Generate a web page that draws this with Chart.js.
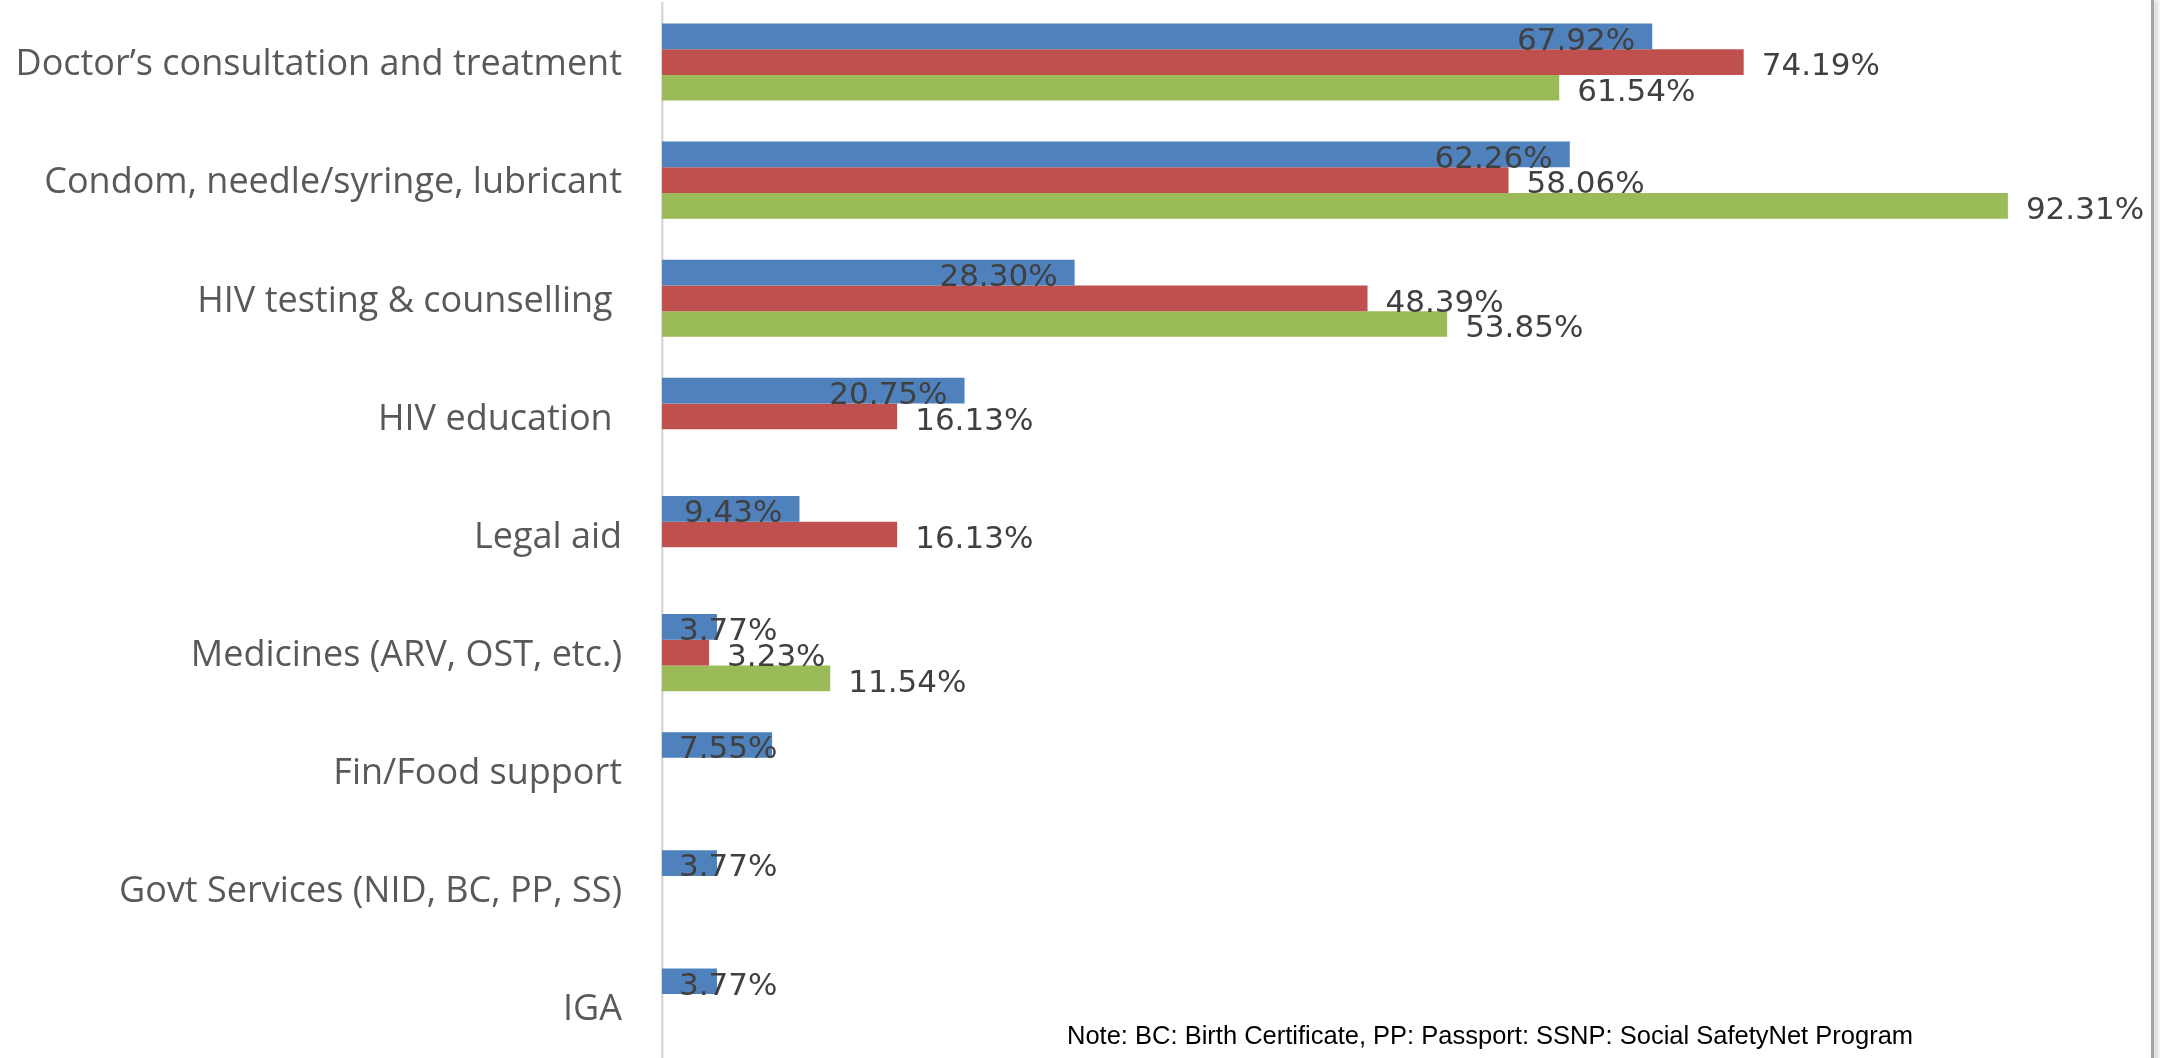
<!DOCTYPE html>
<html>
<head>
<meta charset="utf-8">
<title>Services received</title>
<script src="https://cdn.jsdelivr.net/npm/chart.js@4.4.1/dist/chart.umd.min.js"></script>
<style>
  html, body { margin: 0; padding: 0; background: #fff; overflow: hidden; }
  #wrap { position: relative; width: 2167px; height: 1066px; }
  #note {
    position: absolute; left: 1067px; top: 1023px;
    font: 25.5px "Liberation Sans", Arial, sans-serif; line-height: 1;
    color: #000; white-space: nowrap;
  }
  #edge {
    position: absolute; left: 2151px; top: 0; width: 3px; height: 1066px;
    background: #a6a6a6; box-shadow: 3px 0 4px rgba(0, 0, 0, 0.25);
  }
</style>
</head>
<body>
<div id="wrap">
  <canvas id="chart" width="2167" height="1066"></canvas>
  <div id="note">Note: BC: Birth Certificate, PP: Passport: SSNP: Social SafetyNet Program</div>
  <div id="edge"></div>
</div>
<script>
const categories = [
  "Doctor\u2019s consultation and treatment",
  "Condom, needle/syringe, lubricant",
  "HIV testing & counselling ",
  "HIV education ",
  "Legal aid",
  "Medicines (ARV, OST, etc.)",
  "Fin/Food support",
  "Govt Services (NID, BC, PP, SS)",
  "IGA"
];

// share of respondents (%) per group
const groupA = [67.92, 62.26, 28.30, 20.75, 9.43, 3.77, 7.55, 3.77, 3.77];
const groupB = [74.19, 58.06, 48.39, 16.13, 16.13, 3.23, null, null, null];
const groupC = [61.54, 92.31, 53.85, null, null, 11.54, null, null, null];

const colors = ["#4F81BD", "#C0504D", "#9BBB59"];

// value labels: first series sits inside the bar end, the others just past it
const valueLabels = {
  id: "valueLabels",
  afterDatasetsDraw(chart) {
    const ctx = chart.ctx;
    const size = 31;
    ctx.save();
    ctx.font = size + 'px "DejaVu Sans"';
    ctx.fillStyle = "#404040";
    ctx.textAlign = "left";
    ctx.textBaseline = "alphabetic";
    chart.data.datasets.forEach((ds, di) => {
      const meta = chart.getDatasetMeta(di);
      meta.data.forEach((bar, i) => {
        const v = ds.data[i];
        if (v == null) return;
        const text = v.toFixed(2) + "%";
        const w = ctx.measureText(text).width;
        let x;
        if (di === 0) x = Math.max(bar.base + 17, bar.x - 17 - w);
        else x = bar.x + 18;
        ctx.fillText(text, x, bar.y + 2 + size * 0.3645);
      });
    });
    ctx.restore();
  }
};

new Chart(document.getElementById("chart"), {
  type: "bar",
  data: {
    labels: categories,
    datasets: [
      { label: "A", data: groupA, backgroundColor: colors[0] },
      { label: "B", data: groupB, backgroundColor: colors[1] },
      { label: "C", data: groupC, backgroundColor: colors[2] }
    ]
  },
  options: {
    indexAxis: "y",
    responsive: false,
    devicePixelRatio: 1,
    animation: false,
    layout: { padding: { top: 3, right: 47, bottom: 0, left: 0 } },
    datasets: {
      bar: { categoryPercentage: 0.653, barPercentage: 1.0 }
    },
    plugins: {
      legend: { display: false },
      tooltip: { enabled: false }
    },
    scales: {
      x: { display: false, min: 0, max: 100 },
      y: {
        grid: { display: false, drawTicks: false },
        border: { display: true, color: "#d9d9d9", width: 2.5 },
        ticks: {
          color: "#595959",
          padding: 40,
          labelOffset: 3,
          font: { family: "Open Sans", size: 36 }
        },
        afterFit(scale) {
          // fixed axis position; the label gap should not eat vertical room
          scale.width = 662;
          scale.paddingTop = 0;
          scale.paddingBottom = 0;
        }
      }
    }
  },
  plugins: [valueLabels]
});
</script>
</body>
</html>
